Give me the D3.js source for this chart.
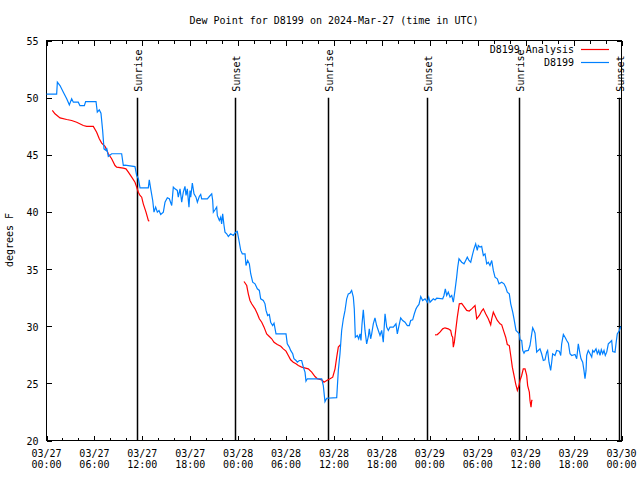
<!DOCTYPE html>
<html><head><meta charset="utf-8">
<script src="https://cdn.jsdelivr.net/npm/d3@7"></script>
<style>
body{margin:0;background:#fff}
svg text{font-family:"DejaVu Sans Mono",monospace;font-size:10px;fill:#000}
</style></head><body>
<svg id="c" width="640" height="480"></svg>
<script>
const title = "Dew Point for D8199 on 2024-Mar-27 (time in UTC)";
const yLabel = "degrees F";
const seriesNames = ["D8199 Analysis", "D8199"];
const seriesColors = ["#ff0000", "#0080ff"];
const yTicks = [20, 25, 30, 35, 40, 45, 50, 55];
const startUTC = Date.UTC(2024, 2, 27, 0, 0);
const endUTC = Date.UTC(2024, 2, 30, 0, 0);
// hours since 03/27 00:00 UTC
const sunriseHours = [11.37, 35.28, 59.18];
const sunsetHours = [23.64, 47.68, 71.73];

const blueHours = [0,1.27,1.36,1.69,2.11,2.53,2.86,3.15,3.36,3.98,4.19,4.74,4.9,6.2,6.36,6.61,6.82,7.03,7.2,7.45,7.53,7.74,8.16,9.41,9.62,9.83,11.08,11.29,11.5,11.71,12.75,12.87,13.05,13.3,13.46,13.67,13.88,14.09,14.3,14.63,14.84,15.13,15.38,15.68,15.88,16.09,16.38,16.5,16.59,16.72,16.93,17.13,17.34,17.47,17.63,17.84,17.97,18.06,18.26,18.47,18.72,18.89,19.13,19.31,19.43,20.14,20.39,20.69,20.81,20.89,21.1,21.31,21.39,21.64,21.81,21.93,22.06,22.23,22.35,22.56,22.77,23.06,23.39,23.69,23.89,24.1,24.32,24.52,24.86,24.98,25.19,25.4,25.57,25.82,26.11,26.4,26.65,26.82,27.15,27.36,27.49,27.69,27.9,28.07,28.32,28.49,28.74,29.99,30.15,30.4,30.57,30.83,30.99,31.24,31.41,31.66,31.95,32.16,32.37,32.49,32.66,34.46,34.66,34.87,35.09,36.34,36.54,36.75,36.96,37.17,37.38,37.59,37.79,38.0,38.21,38.42,38.54,38.67,38.92,39.09,39.26,39.38,39.51,39.67,39.88,40.09,40.3,40.42,40.59,40.72,40.92,41.13,41.34,41.55,41.76,41.97,42.17,42.39,42.6,42.8,43.01,43.43,43.76,43.93,44.1,44.35,44.6,44.89,45.18,45.43,45.6,45.85,46.06,46.27,46.43,46.64,46.86,47.1,47.4,47.68,47.86,48.02,48.23,48.44,48.65,48.86,49.61,49.77,49.94,50.11,50.31,50.53,50.74,50.94,51.15,51.36,51.49,51.65,51.99,52.28,52.49,52.69,52.9,53.12,53.32,53.53,53.74,53.94,54.07,54.28,54.49,54.7,54.91,55.12,55.32,55.53,55.75,55.95,56.16,56.45,56.66,57.0,57.29,57.5,57.7,57.95,58.13,58.38,58.54,58.79,59.0,59.2,59.29,59.5,59.63,59.79,59.92,60.33,60.54,60.76,60.88,61.04,61.17,61.29,61.38,61.58,61.79,62.0,62.21,62.42,62.63,62.75,62.92,63.13,63.26,63.38,63.67,63.88,64.21,64.39,64.51,64.72,64.93,65.14,65.35,65.55,65.76,66.18,66.39,66.59,66.8,66.93,67.14,67.3,67.43,67.56,67.64,67.84,68.06,68.27,68.39,68.56,68.81,68.97,69.15,69.31,69.47,69.65,69.81,69.97,70.15,70.35,70.56,70.77,70.9,71.19,71.31,71.47,71.73,71.9];
const blueValues = [50.3,50.3,51.35,51.06,50.48,49.9,49.37,49.9,49.6,49.6,49.3,49.3,49.66,49.66,48.73,48.93,48.64,47.13,45.52,45.38,45.6,44.85,45.09,45.09,44.06,44.1,43.97,43.19,42.9,42.11,42.11,42.81,42.02,41.0,39.98,40.42,39.98,40.13,39.78,39.98,40.85,41.24,41.15,40.56,42.17,42.02,41.88,41.29,41.59,42.02,40.85,41.73,42.23,41.44,42.02,40.42,41.88,41.29,42.52,41.59,41.29,40.85,41.35,41.53,41.15,41.15,41.35,41.59,41.0,39.98,40.19,40.42,39.69,39.25,39.54,38.96,39.83,38.81,38.23,38.09,37.85,38.09,37.94,38.23,38.29,37.5,36.63,36.33,36.33,35.31,35.75,35.46,34.59,33.85,33.71,33.27,33.13,32.4,32.25,31.96,31.38,30.94,31.03,30.35,30.06,30.26,29.33,29.33,28.46,28.17,27.88,27.59,27.15,27.0,26.85,27.0,27.0,26.42,25.98,25.19,25.4,25.4,24.81,23.4,23.7,23.75,26.13,27.59,29.63,30.65,31.38,32.4,32.83,32.89,33.13,32.54,31.52,29.04,29.19,28.9,29.33,28.75,30.21,31.43,29.63,28.46,29.1,29.77,28.9,29.33,30.21,30.73,30.06,29.63,29.19,29.63,28.6,31.09,29.92,29.63,29.92,29.92,30.21,29.33,29.92,30.73,30.5,30.35,30.06,30.06,30.5,30.56,31.09,31.52,31.72,31.9,32.6,32.25,32.4,32.1,32.54,32.1,32.25,32.4,32.3,32.45,32.4,32.69,33.27,32.69,32.98,32.54,32.69,32.1,33.13,34.29,35.16,35.9,35.6,35.46,35.75,36.04,35.75,35.6,36.19,36.77,37.21,36.63,37.06,36.92,36.98,36.19,36.33,35.46,35.6,35.31,35.75,34.88,34.29,34.15,33.71,33.85,33.71,33.42,32.98,32.83,31.96,31.23,30.65,29.63,29.48,29.33,28.81,28.75,27.88,27.64,27.82,27.88,28.31,29.33,29.86,29.63,29.39,28.46,27.73,27.88,28.02,27.59,27.0,27.06,27.73,27.88,26.85,26.13,26.85,27.59,27.44,27.88,27.82,27.44,28.46,29.28,29.04,28.75,28.52,27.59,27.44,27.53,27.15,28.46,27.59,27.15,26.85,26.13,25.4,26.13,27.44,27.88,27.59,27.3,27.88,27.73,28.02,27.59,27.88,27.44,27.94,27.59,27.88,27.44,27.73,28.46,28.6,28.75,27.79,27.73,28.46,29.33,29.63,29.98];

// Analysis series: null marks a gap between runs
const redHours = [0.73,1.06,1.69,2.53,3.15,3.78,4.61,5.03,5.86,6.28,6.61,6.91,7.33,7.74,8.16,8.58,8.79,9.62,9.95,10.25,10.67,11.08,11.29,11.5,11.71,11.92,12.12,12.46,12.75,12.87,
  18.0,
  24.73,25.07,25.27,25.48,25.69,26.11,26.4,26.65,26.95,27.24,27.57,27.9,28.2,28.49,28.9,29.33,29.65,29.99,30.28,30.57,30.9,31.24,31.53,31.95,32.78,33.21,33.62,33.91,34.46,34.75,35.09,35.5,35.84,36.13,36.34,36.54,36.84,
  42.0,
  48.65,48.94,49.27,49.61,49.9,50.31,50.61,50.74,50.86,50.94,51.07,51.24,51.44,51.69,51.99,52.28,52.62,52.94,53.24,53.66,53.87,54.2,54.49,54.7,54.99,55.32,55.62,55.75,55.95,56.25,56.45,56.79,57.0,57.29,57.5,57.7,57.95,58.13,58.33,58.54,58.75,58.96,59.17,59.29,59.5,59.7,59.92,60.13,60.25,60.46,60.54,60.67,60.76,60.83];
const redValues = [48.88,48.59,48.23,48.09,48.0,47.85,47.56,47.48,47.48,46.98,46.4,46.02,45.73,45.09,44.65,44.06,43.92,43.83,43.77,43.48,43.04,42.6,42.17,41.73,41.44,41.29,40.71,39.98,39.25,39.19,
  null,
  33.91,33.56,32.83,32.25,31.96,31.52,31.09,30.65,30.35,29.92,29.33,29.1,28.9,28.6,28.4,28.25,28.02,27.82,27.44,27.06,26.85,26.71,26.56,26.42,26.27,25.98,25.6,25.4,25.31,25.1,25.25,25.4,25.54,26.27,27.29,28.17,28.4,
  null,
  29.25,29.27,29.48,29.77,29.86,29.77,29.63,29.19,29.04,28.17,28.6,29.63,30.79,31.96,32.0,31.72,31.38,31.33,31.52,31.81,30.65,30.94,31.33,31.52,31.09,30.65,30.12,30.65,31.23,30.79,30.5,30.21,30.12,29.48,29.04,28.4,28.31,27.44,26.42,25.69,24.96,24.38,24.81,25.25,25.69,26.27,26.27,25.69,24.81,24.23,23.5,22.92,23.5,23.56];

const toDate = h => new Date(startUTC + h * 3600000);

const svg = d3.select("#c");
const L = 46.5, R = 621.5, T = 40.5, B = 440.5;
const x = d3.scaleUtc().domain([new Date(startUTC), new Date(endUTC)]).range([L, R]);
const y = d3.scaleLinear().domain([20, 55]).range([B, T]);

svg.append("rect").attr("width", 640).attr("height", 480).attr("fill", "#fff");

// title
svg.append("text").attr("x", (L + R) / 2).attr("y", 24).attr("text-anchor", "middle").text(title);

const majorTicks = x.ticks(d3.utcHour.every(6));
const minorTicks = x.ticks(d3.utcHour.every(2)).filter(d => d.getUTCHours() % 6 !== 0);

function styleAxis(g) {
  g.select(".domain").remove();
  g.selectAll("line").attr("stroke", "#000").attr("shape-rendering", "crispEdges");
}

// bottom axis: inward ticks
const gxB = svg.append("g").attr("transform", `translate(0,${B})`)
  .call(d3.axisBottom(x).tickValues(majorTicks).tickSizeInner(-5).tickSizeOuter(0).tickFormat(""));
styleAxis(gxB);
const gxBm = svg.append("g").attr("transform", `translate(0,${B})`)
  .call(d3.axisBottom(x).tickValues(minorTicks).tickSizeInner(-3).tickSizeOuter(0).tickFormat(""));
styleAxis(gxBm);
// top mirror
const gxT = svg.append("g").attr("transform", `translate(0,${T})`)
  .call(d3.axisTop(x).tickValues(majorTicks).tickSizeInner(-5).tickSizeOuter(0).tickFormat(""));
styleAxis(gxT);
const gxTm = svg.append("g").attr("transform", `translate(0,${T})`)
  .call(d3.axisTop(x).tickValues(minorTicks).tickSizeInner(-3).tickSizeOuter(0).tickFormat(""));
styleAxis(gxTm);

// x labels (two lines)
const fmtD = d3.utcFormat("%m/%d"), fmtH = d3.utcFormat("%H:%M");
const xl = svg.append("g").selectAll("text").data(majorTicks).join("text")
  .attr("text-anchor", "middle").attr("x", d => x(d));
xl.append("tspan").attr("x", d => x(d)).attr("y", 457).text(d => fmtD(d));
xl.append("tspan").attr("x", d => x(d)).attr("y", 468).text(d => fmtH(d));

// y axis
const gyL = svg.append("g").attr("transform", `translate(${L},0)`)
  .call(d3.axisLeft(y).tickValues(yTicks).tickSizeInner(-5).tickSizeOuter(0).tickPadding(8).tickFormat(d3.format("d")));
styleAxis(gyL);
gyL.selectAll("text").attr("dy", null).attr("dominant-baseline", null)
  .attr("y", 4).attr("font-family", null).attr("font-size", null).attr("fill", "#000");
gyL.attr("font-family", null).attr("font-size", null);
const gyR = svg.append("g").attr("transform", `translate(${R},0)`)
  .call(d3.axisRight(y).tickValues(yTicks).tickSizeInner(-5).tickSizeOuter(0).tickFormat(""));
styleAxis(gyR);

svg.append("text").attr("transform", `translate(13,240) rotate(-90)`)
  .attr("text-anchor", "middle").text(yLabel);

// frame
svg.append("rect").attr("x", L).attr("y", T).attr("width", R - L).attr("height", B - T)
  .attr("fill", "none").attr("stroke", "#000").attr("shape-rendering", "crispEdges");

// sunrise / sunset
const sunEvents = sunriseHours.map(h => ({h, label: "Sunrise"}))
  .concat(sunsetHours.map(h => ({h, label: "Sunset"})));
const sg = svg.append("g");
sg.selectAll("line").data(sunEvents).join("line")
  .attr("x1", d => Math.round(x(toDate(d.h))) + 0.5).attr("x2", d => Math.round(x(toDate(d.h))) + 0.5)
  .attr("y1", y(50)).attr("y2", y(20))
  .attr("stroke", "#000").attr("stroke-width", 1.5);
sg.selectAll("text").data(sunEvents).join("text")
  .attr("transform", d => `translate(${x(toDate(d.h)) + 5},${y(50) - 6}) rotate(-90)`)
  .attr("text-anchor", "start").text(d => d.label);

// series
const line = d3.line().defined(d => d.v != null).x(d => x(toDate(d.h))).y(d => y(d.v));
const redData = redHours.map((h, i) => ({h, v: redValues[i]}));
const blueData = blueHours.map((h, i) => ({h, v: blueValues[i]}));
svg.append("path").datum(redData).attr("d", line).attr("fill", "none")
  .attr("stroke", seriesColors[0]).attr("stroke-width", 1.2);
svg.append("path").datum(blueData).attr("d", line).attr("fill", "none")
  .attr("stroke", seriesColors[1]).attr("stroke-width", 1.2);

// legend
const lg = svg.append("g");
seriesNames.forEach((name, i) => {
  const yy = 49.5 + i * 13;
  lg.append("text").attr("x", 574).attr("y", yy + 3.5).attr("text-anchor", "end").text(name);
  lg.append("line").attr("x1", 581).attr("x2", 609).attr("y1", yy).attr("y2", yy)
    .attr("stroke", seriesColors[i]).attr("stroke-width", 1.2);
});
</script>
</body></html>
